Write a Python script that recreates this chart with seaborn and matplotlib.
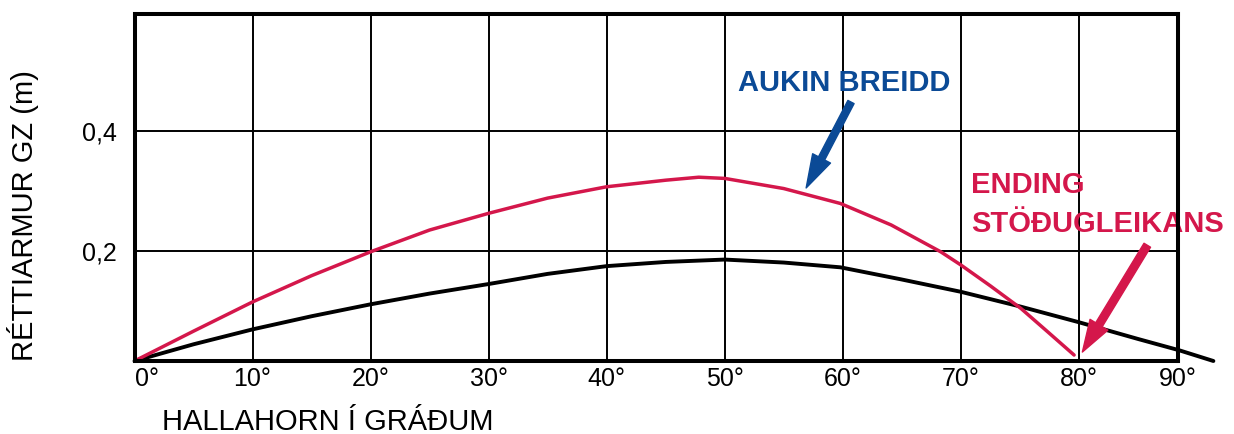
import matplotlib
matplotlib.use("Agg")
import matplotlib.pyplot as plt
import seaborn as sns
import pandas as pd

# Heel angle (degrees) and righting arm GZ (m) for the two stability curves
angle_wide = [0, 5, 10, 15, 20, 25, 30, 35, 40, 45, 47.8, 50, 55, 59.8, 64.1, 68.3,
              70, 72.5, 75.1, 77.3, 79.6]
gz_wide = [0.015, 0.065, 0.114, 0.158, 0.198, 0.2345, 0.2625, 0.288, 0.307, 0.318, 0.323,
           0.321, 0.304, 0.279, 0.243, 0.198, 0.176, 0.141, 0.103, 0.065, 0.025]

angle_base = [0, 5, 10, 15, 20, 25, 30, 35, 40, 45, 50, 55, 59.8, 64.9, 70, 75.1, 80,
              85, 88.5, 91.4]
gz_base = [0.015, 0.043, 0.068, 0.090, 0.110, 0.128, 0.144, 0.161, 0.174, 0.181, 0.185,
           0.180, 0.172, 0.152, 0.131, 0.106, 0.080, 0.052, 0.033, 0.015]

x_ticks = [0, 10, 20, 30, 40, 50, 60, 70, 80]
x_tick_labels = ["0°", "10°", "20°", "30°", "40°", "50°", "60°", "70°", "80°"]
x_end_label = "90°"
y_ticks = [0.2, 0.4]
y_tick_labels = ["0,2", "0,4"]

x_label = "HALLAHORN Í GRÁÐUM"
y_label = "RÉTTIARMUR GZ (m)"
note_width = "AUKIN BREIDD"
note_end_1 = "ENDING"
note_end_2 = "STÖÐUGLEIKANS"

RED = "#D4174B"
BLUE = "#0B4A96"

sns.set_style("white")
plt.rcParams["font.family"] = ["Liberation Sans", "DejaVu Sans"]
plt.rcParams.update({"text.color": "black", "axes.labelcolor": "black",
                     "xtick.color": "black", "ytick.color": "black"})

df_wide = pd.DataFrame({"angle": angle_wide, "gz": gz_wide})
df_base = pd.DataFrame({"angle": angle_base, "gz": gz_base})

fig = plt.figure(figsize=(12.34, 4.34), dpi=100)
ax = fig.add_axes([0.109, 0.1682, 0.9546 - 0.109, 0.9684 - 0.1682])

XMAX = 88.4
ax.set_xlim(0, XMAX)
ax.set_ylim(0.015, 0.597)

# grid
ax.set_xticks(x_ticks)
ax.set_xticklabels(x_tick_labels, fontsize=18)
ax.set_yticks(y_ticks)
ax.set_yticklabels(y_tick_labels, fontsize=18)
ax.grid(True, color="black", linewidth=1.4)
ax.set_axisbelow(True)
ax.tick_params(axis="both", length=0)
ax.tick_params(axis="x", pad=4.6)
ax.tick_params(axis="y", pad=13)
ax.get_xticklabels()[0].set_ha("left")

for s in ax.spines.values():
    s.set_visible(True)
    s.set_color("black")
    s.set_linewidth(2.9)
    s.set_zorder(5)

sns.lineplot(data=df_base, x="angle", y="gz", ax=ax, color="black", linewidth=2.8,
             clip_on=False, zorder=3)
sns.lineplot(data=df_wide, x="angle", y="gz", ax=ax, color=RED, linewidth=2.5, zorder=4)

ax.annotate(x_end_label, xy=(1, 0), xycoords="axes fraction", xytext=(0, -4.6),
            textcoords="offset points", ha="center", va="top", fontsize=18)

ax.set_xlabel(x_label, fontsize=21)
ax.xaxis.label.set(ha="left", va="baseline")
ax.xaxis.set_label_coords(0.026, -0.1988)
ax.set_ylabel(y_label, fontsize=21)
ax.yaxis.label.set(ha="center", va="baseline")
ax.yaxis.set_label_coords(-0.0975, 0.419)

# annotations
ax.text(51.1, 0.468, note_width, color=BLUE, fontsize=21, fontweight="bold",
        ha="left", va="baseline")
ax.annotate("", xy=(56.9, 0.305), xytext=(60.7, 0.449),
            arrowprops=dict(arrowstyle="simple,head_length=2.4,head_width=1.45,tail_width=0.5",
                            mutation_scale=10, color=BLUE, shrinkA=0, shrinkB=0))

ax.text(70.85, 0.2966, note_end_1, color=RED, fontsize=21, fontweight="bold",
        ha="left", va="baseline")
ax.text(70.85, 0.2312, note_end_2, color=RED, fontsize=21, fontweight="bold",
        ha="left", va="baseline")
ax.annotate("", xy=(80.3, 0.030), xytext=(85.8, 0.209),
            arrowprops=dict(arrowstyle="simple,head_length=2.3,head_width=1.5,tail_width=0.55",
                            mutation_scale=10, color=RED, shrinkA=0, shrinkB=0),
            annotation_clip=False)

fig.savefig("out.png", dpi=100)
